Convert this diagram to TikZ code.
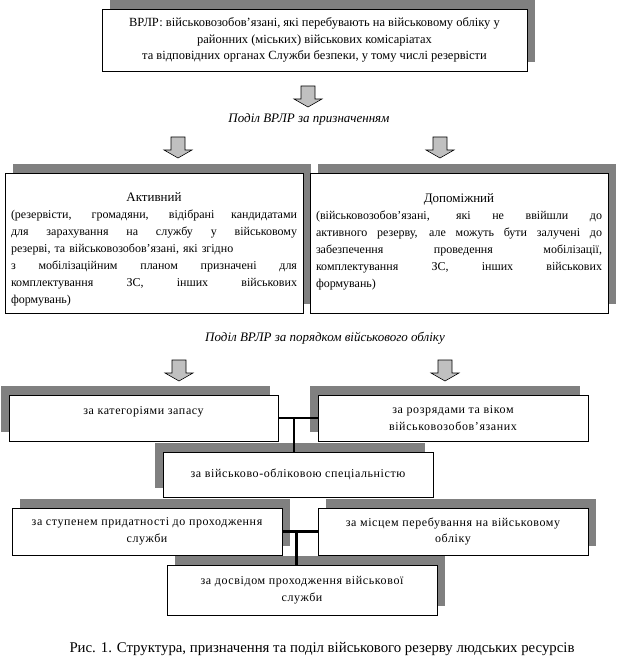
\documentclass[tikz,border=0pt]{standalone}
\usepackage{fontspec}
\setmainfont{Liberation Serif}
\newfontfamily\boxfont[LetterSpace=5]{Liberation Serif}
\usetikzlibrary{calc,shadows}

\definecolor{shadowgray}{RGB}{128,128,128}
\definecolor{arrowgray}{RGB}{192,192,192}
% one justified line of a box paragraph
\newcommand{\jl}[1]{\leavevmode\hbox to 286pt{\spaceskip=0pt\xspaceskip=0pt #1}\\}
\newcommand{\ttl}[1]{\leavevmode\hbox to 286pt{\hfil\rule{0pt}{21pt}\fontsize{13}{17}\selectfont#1\hfil}\\}

\tikzset{
  box/.style={draw, line width=0.8pt, fill=white, inner sep=0pt, align=center,
    font=\boxfont\fontsize{12}{16.5}\selectfont},
  bigbox/.style={box, minimum width=298, minimum height=140, text width=286,
    align=left, font=\fontsize{12}{17}\selectfont},
  smallbox/.style={box, minimum width=270, minimum height=46},
  shadowtr/.style={general shadow={fill=shadowgray, shadow xshift=8pt, shadow yshift=9pt}},
  shadowtl/.style={general shadow={fill=shadowgray, shadow xshift=-8pt, shadow yshift=9pt}},
  heading/.style={font=\fontsize{13}{15}\selectfont\itshape},
  link/.style={line width=2.6pt, line cap=butt},
  arrowbox/.style={draw, line width=0.6pt, fill=arrowgray, line join=miter},
  downarrow/.pic={
    \filldraw[arrowbox] (-7,0) -- (7,0) -- (7,13) -- (14,13) -- (0,21)
      -- (-14,13) -- (-7,13) -- cycle;
  }
}

\begin{document}
\begin{tikzpicture}[x=1pt, y=-1pt, line cap=round]
  \useasboundingbox (0,0) rectangle (619,671);

  % top block
  \node[box, shadowtr, minimum width=425, minimum height=62,
    font=\fontsize{12.5}{16.5}\selectfont] (vrlr) at (314.5,40)
    {ВРЛР: військовозобов’язані, які перебувають на військовому обліку у\\
     районних (міських) військових комісаріатах\\
     та відповідних органах Служби безпеки, у тому числі резервісти};
  \pic at (308,86) {downarrow};
  \node[heading] (purpose) at (309,119) {Поділ ВРЛР за призначенням};
  \pic at (178,137) {downarrow};
  \pic at (440,137) {downarrow};

  % by purpose
  \node[bigbox, shadowtr] (active) at (154,243)
    {\ttl{Активний}
     \jl{(резервісти, громадяни, відібрані кандидатами}
     \jl{для зарахування на службу у військовому}
     резерві, та військовозобов’язані, які згідно\\
     \jl{з мобілізаційним планом призначені для}
     \jl{комплектування ЗС, інших військових}
     формувань)};
  \node[bigbox, shadowtr] (aux) at (459,243)
    {\ttl{Допоміжний}
     \jl{(військовозобов’язані, які не ввійшли до}
     \jl{активного резерву, але можуть бути залучені до}
     \jl{забезпечення проведення мобілізації,}
     \jl{комплектування ЗС, інших військових}
     формувань)\\ \mbox{}};

  \node[heading] (register) at (325,338) {Поділ ВРЛР за порядком військового обліку};
  \pic at (179,360) {downarrow};
  \pic at (445,360) {downarrow};

  % by order of registration
  \node[smallbox, shadowtl, minimum width=269] (cat) at (143.5,418)
    {за категоріями запасу\rule[-15pt]{0pt}{15pt}};
  \node[smallbox, shadowtl] (rank) at (453,418)
    {за розрядами та віком\\ військовозобов’язаних};
  \node[smallbox, shadowtl, minimum height=45] (spec) at (298,474.5)
    {за військово-обліковою спеціальністю};
  \node[smallbox, shadowtr, minimum height=47] (fit) at (147,531.5)
    {за ступенем придатності до проходження\\ служби};
  \node[smallbox, shadowtr, minimum height=47] (place) at (453,531.5)
    {за місцем перебування на військовому\\ обліку};
  \node[smallbox, shadowtr, minimum height=50] (exp) at (302,590)
    {за досвідом проходження військової\\ служби};

  \coordinate (j1) at ($(cat.east)!.4!(rank.west)$);
  \coordinate (j2) at ($(fit.east)!.4!(place.west)$);
  \draw[link] (cat.east) -- (rank.west);
  \draw[link] (j1) -- (j1 |- spec.north);
  \draw[link] (fit.east) -- (place.west);
  \draw[link] (j2) -- (j2 |- exp.north);

  \node[font=\fontsize{14.8}{17}\selectfont] (caption) at (322,649)
    {Рис. 1. Структура, призначення та поділ військового резерву людських ресурсів};
\end{tikzpicture}
\end{document}
